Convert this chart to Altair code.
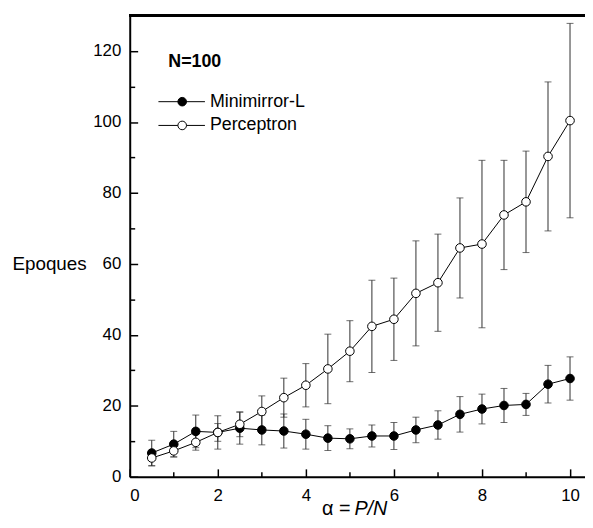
import altair as alt
import pandas as pd

# ---- data ----
alpha = [0.5, 1.0, 1.5, 2.0, 2.5, 3.0, 3.5, 4.0, 4.5, 5.0,
         5.5, 6.0, 6.5, 7.0, 7.5, 8.0, 8.5, 9.0, 9.5, 10.0]
mm_mean = [6.7, 9.2, 12.8, 12.5, 13.7, 13.2, 12.9, 12.0, 10.9, 10.7,
           11.5, 11.5, 13.2, 14.6, 17.6, 19.1, 20.1, 20.4, 26.1, 27.7]
mm_err = [3.6, 3.6, 4.6, 2.5, 4.5, 4.2, 4.8, 4.2, 3.5, 2.8,
          3.1, 3.8, 3.6, 4.0, 5.0, 4.2, 4.8, 3.1, 5.3, 6.1]
pc_mean = [5.3, 7.3, 9.7, 12.5, 14.8, 18.4, 22.3, 25.8, 30.4, 35.4,
           42.4, 44.4, 51.7, 54.7, 64.5, 65.6, 73.8, 77.5, 90.3, 100.4]
pc_err = [2.2, 1.7, 2.2, 4.7, 3.5, 4.4, 5.5, 6.1, 9.8, 8.6,
          13.0, 11.6, 14.8, 13.7, 14.1, 23.6, 15.4, 14.3, 21.0, 27.4]
series_names = ["Minimirror-L", "Perceptron"]
x_ticks = list(range(0, 11))
y_ticks = list(range(0, 121, 10))

rows = []
for name, means, errs in [(series_names[0], mm_mean, mm_err),
                          (series_names[1], pc_mean, pc_err)]:
    for a, m, e in zip(alpha, means, errs):
        rows.append({"alpha": a, "serie": name, "y": m, "lo": m - e, "hi": m + e})
df = pd.DataFrame(rows)

W, H = 460, 466
FONT = "Liberation Sans"

x_axis = alt.Axis(
    values=x_ticks, title=None, grid=False,
    labelExpr="datum.value % 2 === 0 ? datum.label : ''",
    tickSize={"condition": {"test": "datum.value % 2 === 0", "value": -8}, "value": -5},
    tickWidth=1.5, tickColor="black", domainWidth=2, domainColor="black",
    labelFont=FONT, labelFontSize=17, labelColor="black", labelPadding=19,
)
y_axis = alt.Axis(
    values=y_ticks, grid=False, title="Epoques",
    labelExpr="datum.value % 20 === 0 ? datum.label : ''",
    tickSize={"condition": {"test": "datum.value % 20 === 0", "value": -8}, "value": -5},
    tickWidth=1.5, tickColor="black", domainWidth=2, domainColor="black",
    labelFont=FONT, labelFontSize=17, labelColor="black", labelPadding=17,
    titleAngle=0, titleAlign="left", titleBaseline="middle",
    titleX=-119, titleY=251, titleFont=FONT, titleFontSize=19,
    titleFontWeight="normal", titleColor="black",
)
xs = alt.Scale(domain=[0, 10.34], nice=False, zero=False)
ys = alt.Scale(domain=[0, 130], nice=False)

X = alt.X("alpha:Q", scale=xs, axis=x_axis)
Y = alt.Y("y:Q", scale=ys, axis=y_axis)

base = alt.Chart(df)

bars = base.mark_rule(color="#303030", strokeWidth=1).encode(
    x=X, y=alt.Y("lo:Q", scale=ys, axis=y_axis), y2="hi:Q", detail="serie:N")
cap_lo = base.mark_tick(orient="horizontal", size=7, thickness=1, color="#303030").encode(
    x=X, y=alt.Y("lo:Q", scale=ys, axis=y_axis))
cap_hi = base.mark_tick(orient="horizontal", size=7, thickness=1, color="#303030").encode(
    x=X, y=alt.Y("hi:Q", scale=ys, axis=y_axis))
lines = base.mark_line(color="black", strokeWidth=1).encode(
    x=X, y=Y, detail="serie:N")
pts = base.mark_point(shape="circle", filled=True, size=75, stroke="black",
                      strokeWidth=1, opacity=1).encode(
    x=X, y=Y,
    fill=alt.Fill("serie:N", scale=alt.Scale(domain=series_names, range=["black", "white"]),
                  legend=None),
    order=alt.Order("serie:N"),
)

# frame line on top
top_line = alt.Chart(df).mark_rule(color="black", strokeWidth=2).encode(
    x=alt.value(0), x2=alt.value(W), y=alt.value(0))

# in-plot legend
title_n = alt.Chart(pd.DataFrame({"t": ["N=100"]})).mark_text(
    align="left", baseline="middle", font=FONT, fontSize=18, fontWeight="bold",
    color="black").encode(text="t:N", x=alt.value(39), y=alt.value(47))

leg_layers = []
for i, (lab, fc) in enumerate(zip(series_names, ["black", "white"])):
    yy = 87 + 24 * i
    one = pd.DataFrame({"label": [lab]})
    leg_layers.append(alt.Chart(one).mark_rule(color="black", strokeWidth=1).encode(
        x=alt.value(29), x2=alt.value(76), y=alt.value(yy)))
    leg_layers.append(alt.Chart(one).mark_point(shape="circle", filled=True, size=75,
                                                fill=fc, stroke="black", strokeWidth=1,
                                                opacity=1).encode(
        x=alt.value(53), y=alt.value(yy)))
    leg_layers.append(alt.Chart(one).mark_text(align="left", baseline="middle", font=FONT,
                                               fontSize=18, color="black").encode(
        text="label:N", x=alt.value(81), y=alt.value(yy)))

# x-axis title with italic part
xt1 = alt.Chart(pd.DataFrame({"t": ["α ="]})).mark_text(
    align="right", baseline="alphabetic", font=FONT, fontSize=20, color="black").encode(
    text="t:N", x=alt.value(223), y=alt.value(505))
xt2 = alt.Chart(pd.DataFrame({"t": ["P/N"]})).mark_text(
    align="left", baseline="alphabetic", font=FONT, fontSize=20, fontStyle="italic",
    color="black").encode(text="t:N", x=alt.value(227), y=alt.value(505))

chart = alt.layer(
    bars, cap_lo, cap_hi, lines, pts, top_line, title_n, *leg_layers, xt1, xt2
).properties(
    width=W, height=H,
    autosize=alt.AutoSizeParams(type="none"),
    padding={"left": 123, "top": 5, "right": 0, "bottom": 40},
).configure_view(stroke=None).configure(background="white")

chart.save("out.html", embed_options={"renderer": "svg", "actions": False})
